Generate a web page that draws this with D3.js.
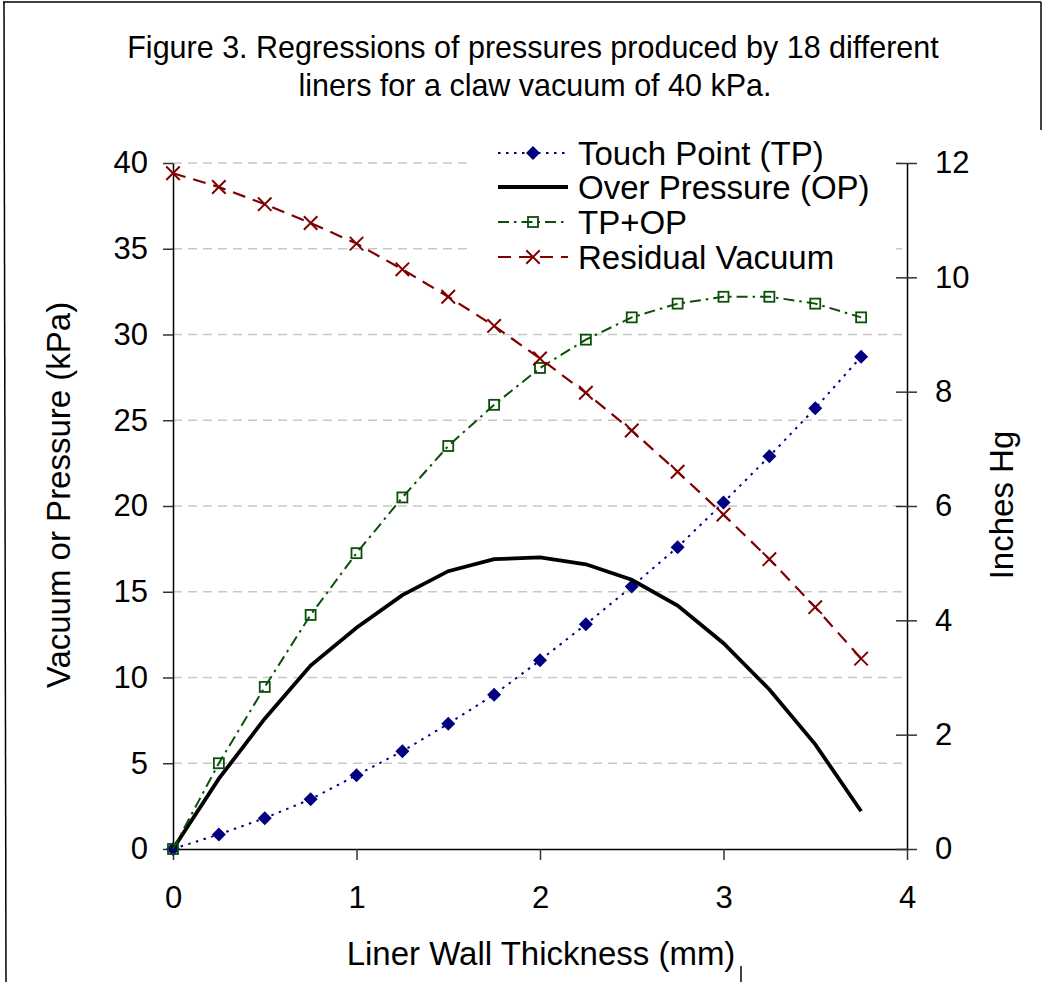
<!DOCTYPE html>
<html>
<head>
<meta charset="utf-8">
<script src="https://cdn.jsdelivr.net/npm/d3@7"></script>
<style>
  body { margin: 0; background: #fff; }
  text { font-family: Arial, "Liberation Sans", sans-serif; fill: #000; }
</style>
</head>
<body>
<div id="viz-container"></div>
<script>

// values (kPa) at each liner wall thickness (mm)
let thickness = [0, 0.25, 0.5, 0.75, 1, 1.25, 1.5, 1.75, 2, 2.25, 2.5, 2.75, 3, 3.25, 3.5, 3.75];
let touchPoint = [0, 0.85, 1.8, 2.9, 4.3, 5.7, 7.3, 9.0, 11.0, 13.1, 15.3, 17.6, 20.2, 22.9, 25.7, 28.7];
let overPressure = [0, 4.1, 7.6, 10.7, 12.9, 14.8, 16.2, 16.9, 17.0, 16.6, 15.7, 14.2, 12.0, 9.3, 6.1, 2.2];
let tpPlusOp = [0, 5.0, 9.45, 13.65, 17.25, 20.5, 23.5, 25.9, 28.05, 29.7, 31.0, 31.8, 32.2, 32.2, 31.8, 31.0];
let residualVacuum = [39.4, 38.6, 37.6, 36.5, 35.3, 33.8, 32.2, 30.5, 28.6, 26.6, 24.4, 22.0, 19.5, 16.9, 14.1, 11.1];

let xTicks = [0, 1, 2, 3, 4];
let kpaTicks = [0, 5, 10, 15, 20, 25, 30, 35, 40];
let inHgTicks = [0, 2, 4, 6, 8, 10, 12];

let seriesNames = ["Touch Point (TP)", "Over Pressure (OP)", "TP+OP", "Residual Vacuum"];

let viz = d3.select("#viz-container")
              .append("svg")
                .attr("width", 1044)
                .attr("height", 982)
;

// frame of the figure
viz.append("line").attr("x1", 3).attr("y1", 2).attr("x2", 1041).attr("y2", 2)
   .attr("stroke", "#000").attr("stroke-width", 1.5);
viz.append("line").attr("x1", 4).attr("y1", 2).attr("x2", 6).attr("y2", 982)
   .attr("stroke", "#000").attr("stroke-width", 1.5);
viz.append("line").attr("x1", 1041).attr("y1", 2).attr("x2", 1041).attr("y2", 130)
   .attr("stroke", "#000").attr("stroke-width", 1.5);
viz.append("line").attr("x1", 741).attr("y1", 966).attr("x2", 741).attr("y2", 982)
   .attr("stroke", "#000").attr("stroke-width", 1.5);

let plotLeft = 173, plotRight = 907, plotTop = 163, plotBottom = 849;

let x = d3.scaleLinear().domain([0, 4]).range([plotLeft, plotRight]);
let y = d3.scaleLinear().domain([0, 40]).range([plotBottom, plotTop]);
let yRight = d3.scaleLinear().domain([0, 12]).range([plotBottom, plotTop]);

// title
viz.append("text").attr("x", 533).attr("y", 58).attr("text-anchor", "middle")
   .attr("font-size", 30.5)
   .text("Figure 3. Regressions of pressures produced by 18 different");
viz.append("text").attr("x", 535).attr("y", 96).attr("text-anchor", "middle")
   .attr("font-size", 30.5)
   .text("liners for a claw vacuum of 40 kPa.");

// gridlines
viz.append("g").selectAll("line").data(kpaTicks.filter(d => d > 0)).enter().append("line")
   .attr("x1", plotLeft).attr("x2", plotRight)
   .attr("y1", d => y(d)).attr("y2", d => y(d))
   .attr("stroke", "#c8c8c8").attr("stroke-width", 1.5)
   .attr("stroke-dasharray", "9,6");

// axes
function styleAxis(g){
  g.selectAll("path").attr("stroke", "#000").attr("stroke-width", 1.5);
  g.selectAll("line").attr("stroke", "#333").attr("stroke-width", 1.5);
  g.selectAll("text").attr("font-size", 31).attr("fill", "#000")
    .attr("font-family", 'Arial, "Liberation Sans", sans-serif');
}

let yAxis = viz.append("g").attr("transform", "translate(" + plotLeft + ",0)")
   .call(d3.axisLeft(y).tickValues(kpaTicks).tickSize(10).tickSizeOuter(0).tickPadding(15))
   .call(styleAxis);

let xAxis = viz.append("g").attr("transform", "translate(0," + plotBottom + ")")
   .call(d3.axisBottom(x).tickValues(xTicks).tickFormat(d3.format("d")).tickSize(11).tickSizeOuter(0).tickPadding(26))
   .call(styleAxis);

let rAxis = viz.append("g").attr("transform", "translate(" + plotRight + ",0)")
   .call(d3.axisRight(yRight).tickValues(inHgTicks).tickSize(10).tickSizeOuter(0).tickPadding(18))
   .call(styleAxis);
rAxis.selectAll(".tick line").attr("x1", -11);

viz.append("text")
   .attr("transform", "translate(70,495) rotate(-90)")
   .attr("text-anchor", "middle").attr("font-size", 33)
   .text("Vacuum or Pressure (kPa)");

viz.append("text")
   .attr("transform", "translate(1013,505) rotate(-90)")
   .attr("text-anchor", "middle").attr("font-size", 33)
   .text("Inches Hg");

viz.append("text").attr("x", 541).attr("y", 965).attr("text-anchor", "middle")
   .attr("font-size", 33)
   .text("Liner Wall Thickness (mm)");

// series lines
function linePath(values){
  return d3.line().x((d, i) => x(thickness[i])).y(d => y(d))(values);
}

let styles = [
  {color: "#000080", width: 2, dash: "2.5,5.5"},
  {color: "#000000", width: 3.8, dash: null},
  {color: "#0b4f0b", width: 2, dash: "11,5,2.5,5"},
  {color: "#800000", width: 2.2, dash: "13,8"}
];
let allSeries = [touchPoint, overPressure, tpPlusOp, residualVacuum];

let diamond = d3.symbol().type(d3.symbolDiamond2).size(125);
let cross = d3.symbol().type(d3.symbolX).size(120);

function drawMarkers(g, i, px, py){
  if (i == 0) {
    g.append("path").attr("d", diamond()).attr("transform", "translate(" + px + "," + py + ")")
     .attr("fill", "#000080");
  } else if (i == 2) {
    g.append("rect").attr("x", px - 5).attr("y", py - 5).attr("width", 10).attr("height", 10)
     .attr("fill", "none").attr("stroke", "#0b4f0b").attr("stroke-width", 1.8);
  } else if (i == 3) {
    g.append("path").attr("d", cross()).attr("transform", "translate(" + px + "," + py + ")")
     .attr("fill", "none").attr("stroke", "#800000").attr("stroke-width", 2);
  }
}

allSeries.forEach(function(values, i){
  let g = viz.append("g");
  g.append("path").attr("d", linePath(values))
   .attr("fill", "none").attr("stroke", styles[i].color)
   .attr("stroke-width", styles[i].width)
   .attr("stroke-dasharray", styles[i].dash);
  values.forEach(function(v, j){
    drawMarkers(g, i, x(thickness[j]), y(v));
  });
});

// legend
viz.append("rect").attr("x", 472).attr("y", 132).attr("width", 424).attr("height", 148).attr("fill", "#fff");

let legendY = [153, 187, 222, 257];
seriesNames.forEach(function(name, i){
  let g = viz.append("g");
  g.append("line").attr("x1", 498).attr("x2", 568)
   .attr("y1", legendY[i]).attr("y2", legendY[i])
   .attr("stroke", styles[i].color).attr("stroke-width", i == 1 ? 4 : styles[i].width)
   .attr("stroke-dasharray", styles[i].dash);
  drawMarkers(g, i, 533, legendY[i]);
  g.append("text").attr("x", 578).attr("y", legendY[i] + 12)
   .attr("font-size", 33).text(name);
});

</script>
</body>
</html>
